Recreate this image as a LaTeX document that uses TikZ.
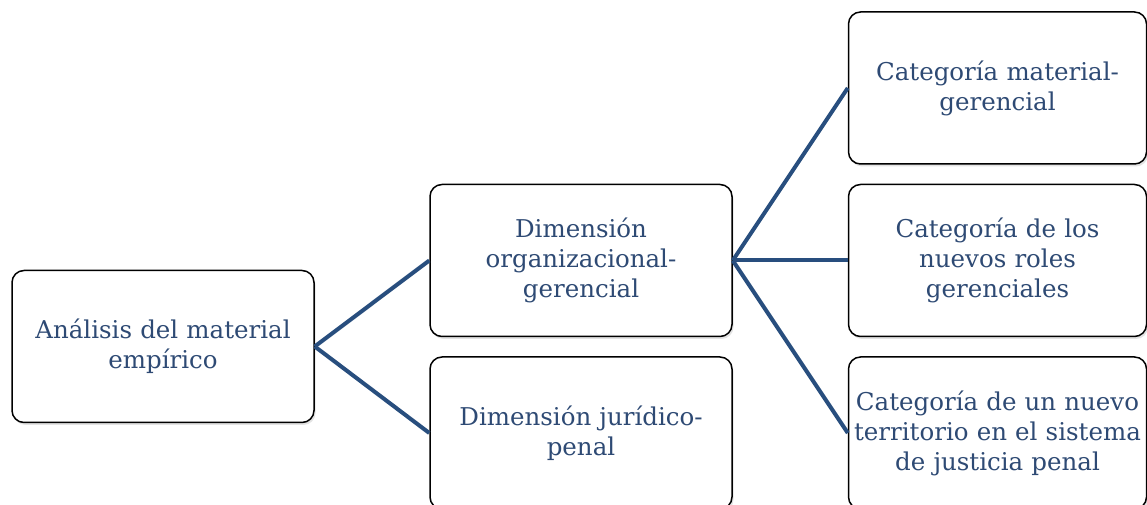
\documentclass[tikz,border=0pt]{standalone}
\usepackage{fontspec}
\setmainfont{DejaVu Serif}
\usetikzlibrary{shadows}
\definecolor{txtblue}{HTML}{2E4A74}
\definecolor{linkblue}{HTML}{284E7E}
\begin{document}
\begin{tikzpicture}[x=1pt,y=1pt,
  box/.style={draw=black, line width=1.5pt, rounded corners=12pt, fill=white,
    minimum width=302pt, minimum height=152pt, inner sep=2pt,
    align=center, text width=298pt, text=txtblue,
    font=\fontsize{24.5}{30}\selectfont,
    drop shadow={opacity=0.22, shadow xshift=1.5pt, shadow yshift=-2.5pt}},
  catbox/.style={box, minimum width=297pt, text width=294pt},
  link/.style={draw=linkblue, line width=4pt}]
\useasboundingbox (0,0) rectangle (1147,505);
% root, dimensions and categories
\node[box] (root) at (163,158.5) {Análisis del material\\empírico};
\node[box] (dorg) at (581,244.5) {Dimensión\\organizacional-\\gerencial};
\node[box] (djur) at (581,72) {Dimensión jurídico-\\penal};
\node[catbox] (cmat) at (997.5,417) {Categoría material-\\gerencial};
\node[catbox] (crol) at (997.5,244.5) {Categoría de los\\nuevos roles\\gerenciales};
\node[catbox] (cter) at (997.5,72) {Categoría de un nuevo\\territorio en el sistema\\de justicia penal};
% connectors
\draw[link] (root.east) -- (dorg.west);
\draw[link] (root.east) -- (djur.west);
\draw[link] (dorg.east) -- (cmat.west);
\draw[link] (dorg.east) -- (crol.west);
\draw[link] (dorg.east) -- (cter.west);
\end{tikzpicture}
\end{document}
